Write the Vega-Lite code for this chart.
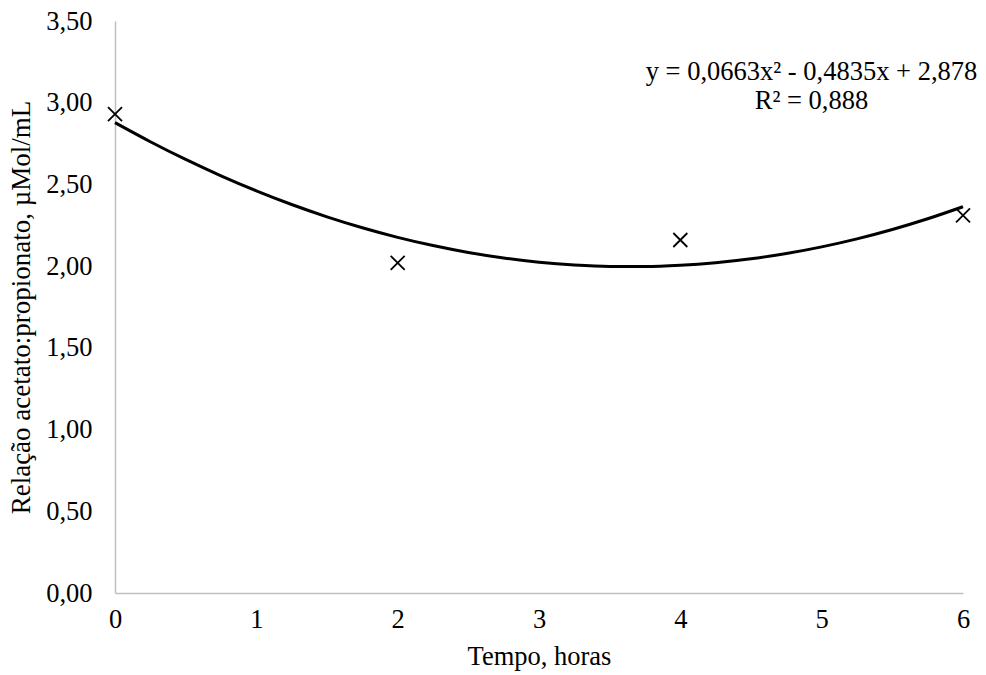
{
  "$schema": "https://vega.github.io/schema/vega-lite/v6.json",
  "width": 848,
  "height": 572,
  "autosize": {"type": "none"},
  "padding": {"left": 115, "top": 21, "right": 23, "bottom": 82},
  "background": "white",
  "config": {
    "view": {"stroke": null},
    "font": "Liberation Serif",
    "axis": {
      "domainColor": "#BFBFBF",
      "domainWidth": 1.5,
      "ticks": false,
      "grid": false,
      "labelFont": "Liberation Serif",
      "titleFont": "Liberation Serif",
      "labelFontSize": 26.5,
      "titleFontSize": 26.5,
      "labelColor": "#000000",
      "titleColor": "#000000",
      "titleFontWeight": "normal",
      "labelFlush": false,
      "labelOverlap": false
    }
  },
  "datasets": {
    "points": [
      {"tempo": 0, "relacao": 2.93},
      {"tempo": 2, "relacao": 2.02},
      {"tempo": 4, "relacao": 2.16},
      {"tempo": 6, "relacao": 2.31}
    ],
    "trend": [
      {"tempo": 0, "relacao": 2.878},
      {"tempo": 0.25, "relacao": 2.7613},
      {"tempo": 0.5, "relacao": 2.6528},
      {"tempo": 0.75, "relacao": 2.5527},
      {"tempo": 1, "relacao": 2.4608},
      {"tempo": 1.25, "relacao": 2.3772},
      {"tempo": 1.5, "relacao": 2.3019},
      {"tempo": 1.75, "relacao": 2.2349},
      {"tempo": 2, "relacao": 2.1762},
      {"tempo": 2.25, "relacao": 2.1258},
      {"tempo": 2.5, "relacao": 2.0836},
      {"tempo": 2.75, "relacao": 2.0498},
      {"tempo": 3, "relacao": 2.0242},
      {"tempo": 3.25, "relacao": 2.0069},
      {"tempo": 3.5, "relacao": 1.9979},
      {"tempo": 3.75, "relacao": 1.9972},
      {"tempo": 4, "relacao": 2.0048},
      {"tempo": 4.25, "relacao": 2.0207},
      {"tempo": 4.5, "relacao": 2.0448},
      {"tempo": 4.75, "relacao": 2.0773},
      {"tempo": 5, "relacao": 2.118},
      {"tempo": 5.25, "relacao": 2.167},
      {"tempo": 5.5, "relacao": 2.2243},
      {"tempo": 5.75, "relacao": 2.2899},
      {"tempo": 6, "relacao": 2.3638}
    ],
    "labels": [
      {"tempo": 4.928, "relacao": 3.19, "texto": "y = 0,0663x² - 0,4835x + 2,878"},
      {"tempo": 4.928, "relacao": 3.01, "texto": "R² = 0,888"}
    ]
  },
  "encoding": {
    "x": {
      "field": "tempo",
      "type": "quantitative",
      "scale": {"domain": [0, 6], "nice": false, "zero": false},
      "axis": {
        "values": [0, 1, 2, 3, 4, 5, 6],
        "title": "Tempo, horas",
        "labelPadding": 13,
        "titlePadding": 11,
        "format": "d"
      }
    },
    "y": {
      "field": "relacao",
      "type": "quantitative",
      "scale": {"domain": [0, 3.5], "nice": false},
      "axis": {
        "values": [0, 0.5, 1, 1.5, 2, 2.5, 3, 3.5],
        "title": "Relação acetato:propionato, µMol/mL",
        "labelExpr": "replace(format(datum.value, '.2f'), '.', ',')",
        "labelPadding": 23,
        "titlePadding": 10,
        "titleFontSize": 27
      }
    }
  },
  "layer": [
    {
      "data": {"name": "trend"},
      "mark": {"type": "line", "color": "#000000", "strokeWidth": 3, "interpolate": "monotone"}
    },
    {
      "data": {"name": "points"},
      "mark": {
        "type": "point",
        "shape": "M-1,-1L1,1M-1,1L1,-1",
        "size": 196,
        "filled": false,
        "stroke": "#000000",
        "strokeWidth": 1.8,
        "opacity": 1
      }
    },
    {
      "data": {"name": "labels"},
      "mark": {
        "type": "text",
        "font": "Liberation Serif",
        "fontSize": 26.5,
        "align": "center",
        "baseline": "middle",
        "color": "#000000"
      },
      "encoding": {"text": {"field": "texto", "type": "nominal"}}
    }
  ]
}
